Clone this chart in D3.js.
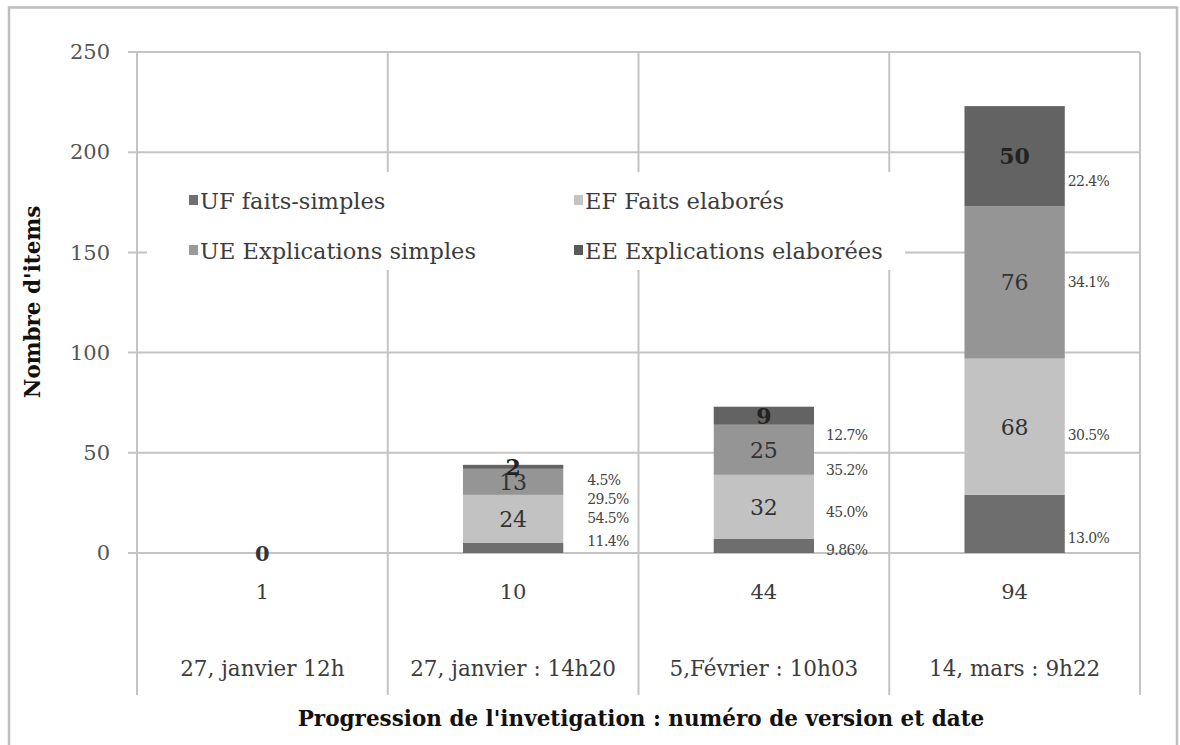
<!DOCTYPE html>
<html>
<head>
<meta charset="utf-8">
<script src="https://cdn.jsdelivr.net/npm/d3@7"></script>
<style>
  html, body { margin: 0; padding: 0; background: #fff; }
  svg { display: block; }
  text { font-family: "DejaVu Serif", "Liberation Serif", serif; }
</style>
</head>
<body>
<svg id="chart" width="1180" height="745"></svg>
<script>
// Versions of the investigation and their dates
const versions = ["1", "10", "44", "94"];
const dates = ["27, janvier 12h", "27, janvier : 14h20", "5,Février : 10h03", "14, mars : 9h22"];

// Item counts per category, one value per version
const seriesKeys = ["UF", "EF", "UE", "EE"];
const seriesNames = ["UF faits-simples", "EF Faits elaborés", "UE Explications simples", "EE Explications elaborées"];
const UF = [0, 5, 7, 29];
const EF = [0, 24, 32, 68];
const UE = [0, 13, 25, 76];
const EE = [0, 2, 9, 50];

// Share labels written next to each bar (bottom to top: UF, EF, UE, EE)
const pctUF = ["", "11.4%", "9.86%", "13.0%"];
const pctEF = ["", "54.5%", "45.0%", "30.5%"];
const pctUE = ["", "29.5%", "35.2%", "34.1%"];
const pctEE = ["", "4.5%", "12.7%", "22.4%"];

const yTicks = [0, 50, 100, 150, 200, 250];

// ---- layout / style ----
const colors = { UF: "#6e6e6e", EF: "#c2c2c2", UE: "#959595", EE: "#636363" };
const legendSwatch = { UF: "#707070", EF: "#c4c4c4", UE: "#9a9a9a", EE: "#5a5a5a" };
const gridColor = "#c4c4c4";
const textColor = "#3c3c3c";
const plot = { left: 137, right: 1140, top: 52, bottom: 553, tableBottom: 695 };

// hand-placed share labels: horizontal gap after the bar, and y (px) per series UF, EF, UE, EE
const pctPlace = [
  null,
  { dx: 24, y: [541, 518, 499, 480] },
  { dx: 12, y: [550, 512, 470, 435] },
  { dx: 3,  y: [538, 435, 282, 181] }
];

const svg = d3.select("#chart");

const rows = versions.map((v, i) => ({ version: v, UF: UF[i], EF: EF[i], UE: UE[i], EE: EE[i] }));
const stacked = d3.stack().keys(seriesKeys)(rows);

const x = d3.scaleBand().domain(versions).range([plot.left, plot.right]).paddingInner(0).paddingOuter(0);
const y = d3.scaleLinear().domain([0, 250]).range([plot.bottom, plot.top]);
const barW = x.bandwidth() * 0.4;

// outer frame (open at the bottom edge)
svg.append("path")
  .attr("d", "M9,745 V7.5 H1177 V745")
  .attr("fill", "none").attr("stroke", "#bdbdbd").attr("stroke-width", 2.5);

// horizontal gridlines with tick stubs on the left
svg.append("g").selectAll("line").data(yTicks).join("line")
  .attr("x1", plot.left - 9).attr("x2", plot.right)
  .attr("y1", d => y(d)).attr("y2", d => y(d))
  .attr("stroke", gridColor).attr("stroke-width", 2);

// vertical lines: axis and category separators, running down through the label table
const bounds = versions.map(v => x(v)).concat([plot.right]);
svg.append("g").selectAll("line").data(bounds).join("line")
  .attr("x1", d => d).attr("x2", d => d)
  .attr("y1", plot.top).attr("y2", plot.tableBottom)
  .attr("stroke", gridColor).attr("stroke-width", 2);

// y axis tick labels
const yAxis = d3.axisLeft(y).tickValues(yTicks).tickSize(0).tickPadding(27);
const gy = svg.append("g").attr("transform", `translate(${plot.left},0)`).call(yAxis);
gy.select(".domain").remove();
gy.selectAll("text")
  .attr("font-family", "DejaVu Serif, serif").attr("font-size", 21).attr("fill", "#555");

// legend (white box over the grid)
const legend = svg.append("g");
legend.append("rect").attr("x", 147).attr("y", 172).attr("width", 758).attr("height", 98).attr("fill", "#fff");
const legendPos = [
  { key: "UF", x: 189, y: 201 }, { key: "EF", x: 574, y: 201 },
  { key: "UE", x: 189, y: 251 }, { key: "EE", x: 574, y: 251 }
];
legendPos.forEach(p => {
  const i = seriesKeys.indexOf(p.key);
  legend.append("rect").attr("x", p.x).attr("y", p.y - 6).attr("width", 9).attr("height", 10)
    .attr("fill", legendSwatch[p.key]);
  legend.append("text").attr("x", p.x + 11).attr("y", p.y + 8)
    .attr("font-size", 22.5).attr("fill", textColor).text(seriesNames[i]);
});

// stacked bars
const gBars = svg.append("g");
stacked.forEach(layer => {
  gBars.append("g").attr("fill", colors[layer.key])
    .selectAll("rect").data(layer.filter(d => d[1] > d[0])).join("rect")
    .attr("x", d => x(d.data.version) + (x.bandwidth() - barW) / 2)
    .attr("width", barW)
    .attr("y", d => y(d[1]))
    .attr("height", d => y(d[0]) - y(d[1]));
});

// value labels centred in the EF, UE and EE segments
const gVals = svg.append("g");
stacked.filter(l => l.key !== "UF").forEach(layer => {
  gVals.selectAll(null).data(layer.filter(d => d[1] > d[0])).join("text")
    .attr("x", d => x(d.data.version) + x.bandwidth() / 2)
    .attr("y", d => y((d[0] + d[1]) / 2))
    .attr("dy", "0.36em")
    .attr("text-anchor", "middle")
    .attr("font-size", 22)
    .attr("fill", layer.key === "EE" ? "#222" : "#333")
    .attr("font-weight", layer.key === "EE" ? "bold" : "normal")
    .text(d => d[1] - d[0]);
});
// total for the empty first version
rows.forEach(r => {
  const total = seriesKeys.reduce((s, k) => s + r[k], 0);
  if (total === 0) {
    gVals.append("text")
      .attr("x", x(r.version) + x.bandwidth() / 2).attr("y", y(0))
      .attr("dy", "0.36em").attr("text-anchor", "middle")
      .attr("font-size", 21).attr("font-weight", "bold").attr("fill", "#333")
      .text(total);
  }
});

// share labels next to each bar
const pctLists = [pctUF, pctEF, pctUE, pctEE];
const gPct = svg.append("g");
versions.forEach((v, i) => {
  const place = pctPlace[i];
  if (!place) return;
  pctLists.forEach((list, s) => {
    gPct.append("text")
      .attr("x", x(v) + (x.bandwidth() + barW) / 2 + place.dx)
      .attr("y", place.y[s])
      .attr("dy", "0.36em")
      .attr("font-family", "Liberation Serif, serif")
      .attr("font-size", 14).attr("letter-spacing", -0.6)
      .attr("fill", "#444")
      .text(list[i]);
  });
});

// category table under the plot: version numbers and dates
const gCat = svg.append("g");
gCat.selectAll(".ver").data(versions).join("text")
  .attr("class", "ver")
  .attr("x", d => x(d) + x.bandwidth() / 2).attr("y", 591).attr("dy", "0.36em")
  .attr("text-anchor", "middle").attr("font-size", 21).attr("fill", textColor)
  .text(d => d);
gCat.selectAll(".date").data(versions).join("text")
  .attr("class", "date")
  .attr("x", d => x(d) + x.bandwidth() / 2).attr("y", 668).attr("dy", "0.36em")
  .attr("text-anchor", "middle").attr("font-size", 21.5).attr("fill", textColor)
  .text((d, i) => dates[i]);

// axis titles
svg.append("text")
  .attr("x", 641).attr("y", 718).attr("dy", "0.36em").attr("text-anchor", "middle")
  .attr("font-size", 21.5).attr("font-weight", "bold").attr("fill", "#111")
  .text("Progression de l'invetigation : numéro de version et date");
svg.append("text")
  .attr("transform", "translate(32,302) rotate(-90)")
  .attr("dy", "0.36em").attr("text-anchor", "middle")
  .attr("font-size", 21.5).attr("font-weight", "bold").attr("fill", "#111")
  .text("Nombre d'items");
</script>
</body>
</html>
